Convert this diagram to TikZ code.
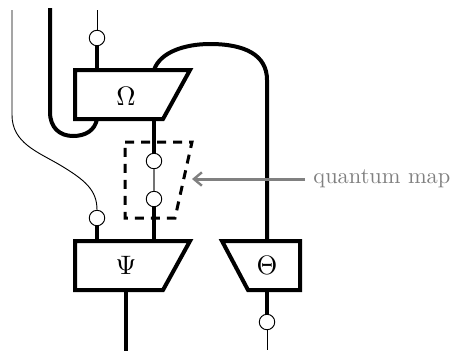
\documentclass[tikz,border=0pt]{standalone}
\usetikzlibrary{arrows.meta}
\tikzset{
  thick wire/.style={line width=3pt,black},
  thin wire/.style={line width=0.7pt,black},
  box/.style={line width=3pt,draw=black,fill=white,miter limit=10},
  dot/.style={circle,draw=black,line width=0.7pt,fill=white,minimum size=11.6pt,inner sep=0pt},
  lab/.style={inner sep=0pt,scale=2},
}
\begin{document}
\begin{tikzpicture}[x=0.75pt,y=-0.75pt]
\useasboundingbox (0,0) rectangle (452,351);
\coordinate (tl) at (50,8);
\coordinate (t1) at (12,10);
\coordinate (t2) at (97,10);
\coordinate (b1) at (126,351);
\coordinate (b2) at (267,350);
\coordinate (om1) at (97,70);
\coordinate (om2) at (97,119);
\coordinate (om3) at (154,70);
\coordinate (om4) at (154,119);
\coordinate (ps1) at (97,241);
\coordinate (ps2) at (154,241);
\coordinate (ps3) at (126,290);
\coordinate (th1) at (267,241);
\coordinate (th2) at (267,290);
\node[dot] (d1) at (97,38) {};
\node[dot] (d2) at (154,161) {};
\node[dot] (d3) at (154,199) {};
\node[dot] (d4) at (97,218) {};
\node[dot] (d5) at (267,322) {};
% thin wires
\draw[thin wire] (t2) -- (d1);
\draw[thin wire,line width=1pt,black!55] (d2) -- (d3);
\draw[thin wire] (d5) -- (b2);
\draw[thin wire] (t1) -- (12,115) .. controls (12,143) and (38,152) .. (60,165) .. controls (85,180) and (97,190) .. (d4.north);
% thick wires
\draw[thick wire] (d1) -- (om1);
\draw[thick wire] (om4) -- (d2);
\draw[thick wire] (d3) -- (ps2);
\draw[thick wire] (d4) -- (ps1);
\draw[thick wire] (ps3) -- (b1);
\draw[thick wire] (th2) -- (d5);
\draw[thick wire] (tl) -- (50,112) .. controls (50,128) and (60,136) .. (73,136) .. controls (86,136) and (95,130) .. (om2);
\draw[thick wire] (om3) .. controls (160,52) and (185,44) .. (210,44) .. controls (245,44) and (267,55) .. (267,80) -- (th1);
% boxes
\draw[box] (75,70) -- (190,70) -- (163,119) -- (75,119) -- cycle;
\draw[box] (75,241) -- (190,241) -- (163,290) -- (75,290) -- cycle;
\draw[box] (222,241) -- (300,241) -- (300,290) -- (248,290) -- cycle;
\node[lab] (omega) at (126,96.5) {$\Omega$};
\node[lab] (psi) at (126,265) {$\Psi$};
\node[lab] (theta) at (267,265) {$\Theta$};
% dashed map
\coordinate (mapedge) at (192,179);
\draw[line width=2.25pt,dash pattern=on 6.75pt off 5.25pt] (125,142) -- (192,142) -- (175,218) -- (125,218) -- cycle;
\node[text=gray,anchor=base west,inner sep=0pt,scale=1.68] (qm) at (313,183) {quantum map};
\draw[line width=2.25pt,gray,-{Straight Barb[length=6pt,width=10pt,line width=1.8pt]}] (305,179) -- (mapedge);
\end{tikzpicture}
\end{document}
